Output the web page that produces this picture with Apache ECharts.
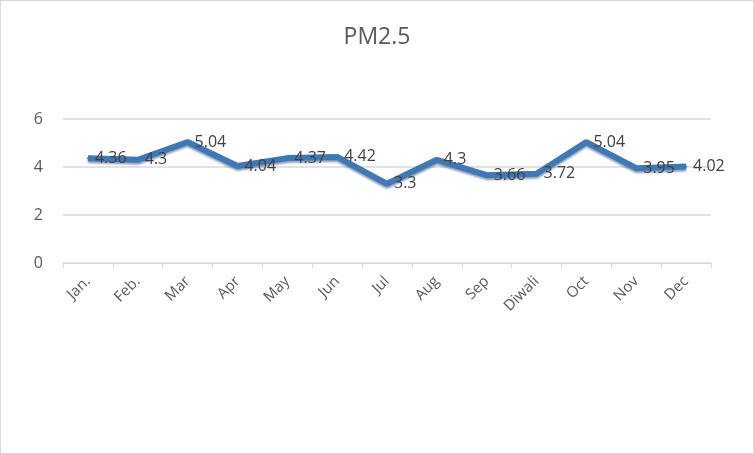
<!DOCTYPE html>
<html><head><meta charset="utf-8">
<script src="https://cdn.jsdelivr.net/npm/echarts@6/dist/echarts.min.js"></script>
<style>
html,body{margin:0;padding:0;background:#fff;}
#c{width:752px;height:452px;border:1px solid #d9d9d9;}
</style></head>
<body><div id="c"></div>
<script>
const categories = ['Jan.','Feb.','Mar','Apr','May','Jun','Jul','Aug','Sep','Diwali','Oct','Nov','Dec'];
const pm25 = [4.36,4.3,5.04,4.04,4.37,4.42,3.3,4.3,3.66,3.72,5.04,3.95,4.02];
const yTicks = {min:0,max:6,interval:2};

const chart = echarts.init(document.getElementById('c'));
chart.setOption({
  animation:false,
  title:{text:'PM2.5',left:'center',top:20,textStyle:{fontFamily:'Open Sans',fontWeight:'normal',fontSize:23,color:'#595959'}},
  grid:{left:62,right:42,top:118,bottom:190,containLabel:false},
  xAxis:{type:'category',data:categories,boundaryGap:true,
    axisLine:{lineStyle:{color:'#d9d9d9'}},
    axisTick:{show:true,alignWithLabel:false,lineStyle:{color:'#d9d9d9'}},
    axisLabel:{rotate:45,color:'#595959',fontSize:15,fontFamily:'Open Sans',margin:16}},
  yAxis:{type:'value',min:yTicks.min,max:yTicks.max,interval:yTicks.interval,
    axisLine:{show:false},axisTick:{show:false},
    axisLabel:{color:'#595959',fontSize:16,fontFamily:'Open Sans',margin:20},
    splitLine:{lineStyle:{color:'#d9d9d9',width:1.5}}},
  series:[{type:'line',data:pm25,symbol:'circle',symbolSize:2,showSymbol:true,
    itemStyle:{color:'#3f78b4'},
    lineStyle:{color:'#3f78b4',width:6,shadowColor:'rgba(30,70,120,0.5)',shadowBlur:2,shadowOffsetY:2},
    label:{show:true,position:'right',distance:6,color:'#404040',fontSize:16,fontFamily:'Open Sans'},
    labelLayout:{hideOverlap:false}}]
});
</script></body></html>
